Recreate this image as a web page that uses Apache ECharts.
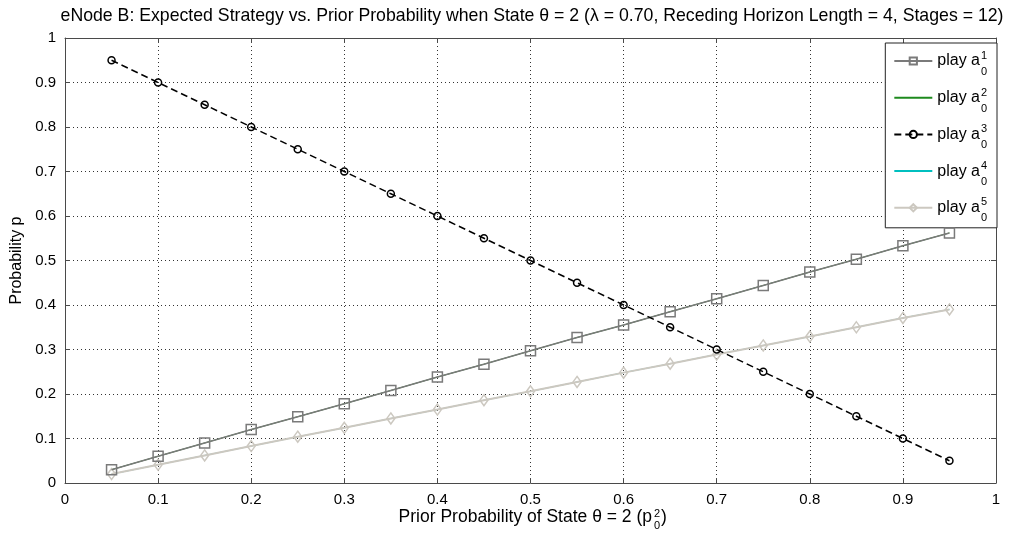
<!DOCTYPE html>
<html><head><meta charset="utf-8">
<script src="https://cdn.jsdelivr.net/npm/echarts@6/dist/echarts.min.js"></script>
<style>html,body{margin:0;padding:0;background:#fff}#c{width:1012px;height:542px}</style>
</head><body><div id="c"></div>
<script>
const priors = [0.05,0.10,0.15,0.20,0.25,0.30,0.35,0.40,0.45,0.50,0.55,0.60,0.65,0.70,0.75,0.80,0.85,0.90,0.95];
const playA1 = [0.030,0.060,0.090,0.120,0.149,0.178,0.208,0.238,0.267,0.297,0.327,0.355,0.385,0.414,0.444,0.474,0.503,0.533,0.562];
const playA2 = [0.030,0.060,0.090,0.120,0.149,0.178,0.208,0.238,0.267,0.297,0.327,0.355,0.385,0.414,0.444,0.474,0.503,0.533,0.562];
const playA3 = [0.95,0.90,0.85,0.80,0.75,0.70,0.65,0.60,0.55,0.50,0.45,0.40,0.35,0.30,0.25,0.20,0.15,0.10,0.05];
const playA4 = [0.020,0.041,0.062,0.083,0.104,0.124,0.145,0.165,0.186,0.206,0.227,0.248,0.268,0.289,0.309,0.329,0.350,0.371,0.390];
const playA5 = [0.020,0.041,0.062,0.083,0.104,0.124,0.145,0.165,0.186,0.206,0.227,0.248,0.268,0.289,0.309,0.329,0.350,0.371,0.390];
const xTicks = [0,0.1,0.2,0.3,0.4,0.5,0.6,0.7,0.8,0.9,1];
const yTicks = [0,0.1,0.2,0.3,0.4,0.5,0.6,0.7,0.8,0.9,1];
const legendNames = ['play a1','play a2','play a3','play a4','play a5'];
const supDigits = ['1','2','3','4','5'];

const FONT = 'Liberation Sans';
const pairs = arr => priors.map((x,i)=>[x,arr[i]]);
const fmt = v => (v===0||v===1) ? String(v) : String(Math.round(v*10)/10);

const chart = echarts.init(document.getElementById('c'));
const axisCol = '#4a4a4a';
const baseX = {type:'value',min:0,max:1,interval:0.1,
  axisLine:{show:true,onZero:false,lineStyle:{color:axisCol,width:1}},
  axisTick:{show:true,inside:true,length:5,lineStyle:{color:axisCol}}};
const baseY = {type:'value',min:0,max:1,interval:0.1,
  axisLine:{show:true,onZero:false,lineStyle:{color:axisCol,width:1}},
  axisTick:{show:true,inside:true,length:5,lineStyle:{color:axisCol}}};

function mk(name,data,color,symbol,size,dash,z,width){
  return {name,type:'line',data:pairs(data),xAxisIndex:0,yAxisIndex:0,z:z,
    symbol:symbol,symbolSize:size,showSymbol:symbol!=='none',
    lineStyle:{color:color,width:width,type:dash||'solid'},
    itemStyle:{color:symbol==='none'?color:'rgba(255,255,255,0)',borderColor:color,borderWidth:1.5},
    emphasis:{disabled:true},animation:false};
}

const legendCenters = [60,96.5,133,169.5,206];
const graphics = [];
legendCenters.forEach((cy,i)=>{
  graphics.push({type:'text',x:981,y:cy-4,z:100,style:{text:supDigits[i],font:'11px '+FONT,fill:'#000',verticalAlign:'middle'}});
  graphics.push({type:'text',x:981,y:cy+12,z:100,style:{text:'0',font:'11px '+FONT,fill:'#000',verticalAlign:'middle'}});
});
// x-axis title with stacked super/subscript
graphics.push({type:'text',x:652,y:517,z:100,style:{text:'Prior Probability of State θ = 2 (p',font:'17.5px '+FONT,fill:'#000',align:'right',verticalAlign:'middle'}});
graphics.push({type:'text',x:654,y:513.5,z:100,style:{text:'2',font:'11px '+FONT,fill:'#000',align:'left',verticalAlign:'middle'}});
graphics.push({type:'text',x:654,y:525.5,z:100,style:{text:'0',font:'11px '+FONT,fill:'#000',align:'left',verticalAlign:'middle'}});
graphics.push({type:'text',x:661,y:517,z:100,style:{text:')',font:'17.5px '+FONT,fill:'#000',align:'left',verticalAlign:'middle'}});

const legendData = legendNames.map((n,i)=> (i===1||i===3) ? {name:n,itemStyle:{opacity:0}} : {name:n});

chart.setOption({
  animation:false,
  title:{text:'eNode B: Expected Strategy vs. Prior Probability when State θ = 2 (λ = 0.70, Receding Horizon Length = 4, Stages = 12)',
    left:527,top:2,textAlign:'center',textStyle:{fontFamily:FONT,fontSize:17.7,fontWeight:'normal',color:'#000'}},
  grid:{left:65,right:16,top:38,bottom:59,containLabel:false,outerBoundsMode:'none'},
  xAxis:[
    Object.assign({},baseX,{position:'bottom',
      axisLabel:{show:true,margin:9,fontFamily:FONT,fontSize:15,color:'#000',formatter:fmt},
      splitLine:{show:true,lineStyle:{color:'#333',type:[1,3],width:1}}}),
    Object.assign({},baseX,{position:'top',axisLabel:{show:false},splitLine:{show:false}})
  ],
  yAxis:[
    Object.assign({},baseY,{position:'left',name:'Probability p',nameLocation:'middle',nameGap:36,
      nameTextStyle:{fontFamily:FONT,fontSize:16,color:'#000'},
      axisLabel:{show:true,margin:9,fontFamily:FONT,fontSize:15,color:'#000',formatter:fmt},
      splitLine:{show:true,lineStyle:{color:'#333',type:[1,3],width:1}}}),
    Object.assign({},baseY,{position:'right',axisLabel:{show:false},splitLine:{show:false}})
  ],
  legend:{orient:'vertical',right:15,top:43,data:legendData,
    backgroundColor:'#fff',borderColor:'#222',borderWidth:1,
    padding:[10,17,12,8],itemGap:20.7,itemWidth:38,itemHeight:9,
    selectedMode:false,
    formatter:()=> 'play a',
    textStyle:{fontFamily:FONT,fontSize:16,lineHeight:14,color:'#000'}},
  graphic:graphics,
  series:[
    mk('play a2',playA2,'#1e8a1e','none',0,null,2,1),
    mk('play a4',playA4,'#00bfbf','none',0,null,2,0.8),
    mk('play a5',playA5,'#ccc8c0','diamond',[8,11],null,3,2),
    mk('play a1',playA1,'#7a7a7a','rect',10,null,4,1.6),
    mk('play a3',playA3,'#000000','circle',7,[7,4],5,1.5)
  ]
});
</script></body></html>
